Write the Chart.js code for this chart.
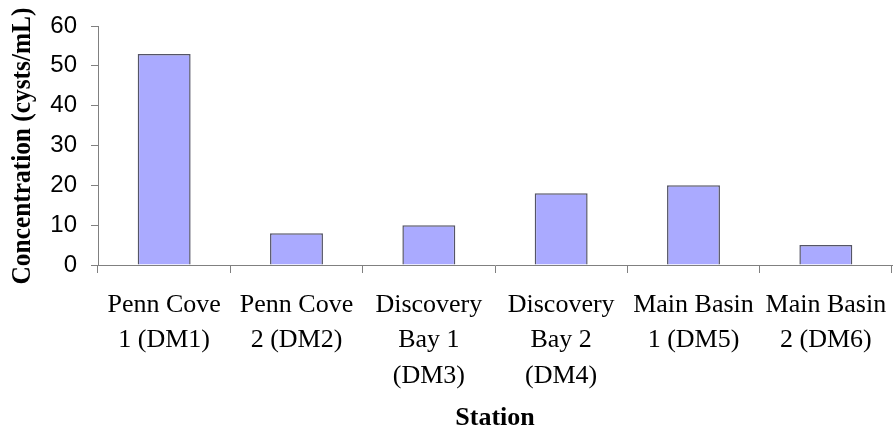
<!DOCTYPE html>
<html>
<head>
<meta charset="utf-8">
<script src="https://cdn.jsdelivr.net/npm/chart.js@4"></script>
<style>
html, body { margin: 0; padding: 0; background: #fff; }
#wrap { width: 893px; height: 437px; }
</style>
</head>
<body>
<div id="wrap"><canvas id="grafico"></canvas></div>
<script>
var estaciones = [
    ['Penn Cove', '1 (DM1)'],
    ['Penn Cove', '2 (DM2)'],
    ['Discovery', 'Bay 1', '(DM3)'],
    ['Discovery', 'Bay 2', '(DM4)'],
    ['Main Basin', '1 (DM5)'],
    ['Main Basin', '2 (DM6)']
];
var concentracion = [53, 8, 10, 18, 20, 5];
var ejeY = { min: 0, max: 60, paso: 10 };
var tituloY = 'Concentration (cysts/mL)';
var tituloX = 'Station';

// the y title is longer than the plot height, so draw it by hand
var tituloVertical = {
    id: 'tituloVertical',
    afterDraw: function(chart) {
        var c = chart.ctx;
        c.save();
        c.translate(23, 146);
        c.rotate(-Math.PI / 2);
        c.fillStyle = '#000';
        c.font = 'bold 27px "Liberation Serif"';
        c.textAlign = 'center';
        c.textBaseline = 'middle';
        c.fillText(tituloY, 0, 0, 277);
        c.restore();
    }
};

var ctx = document.getElementById('grafico').getContext('2d');
var grafico = new Chart(ctx, {
type: 'bar',
data: {
    labels: estaciones,
    datasets: [{
        label: 'Concentration',
        data: concentracion,
        backgroundColor: '#aaaaff',
        borderColor: '#555566',
        borderWidth: 1.5,
        barPercentage: 0.4,
        categoryPercentage: 1.0
    }]
},
options: {
    responsive: true,
    maintainAspectRatio: false,
    animation: false,
    layout: { padding: { top: 26, right: 1, left: 0, bottom: 0 } },
    scales: {
        y: {
            min: ejeY.min,
            max: ejeY.max,
            afterFit: function(eje) {
                eje.width = 98;
                eje.paddingTop = 0;
                eje.paddingBottom = 0;
            },
            ticks: {
                stepSize: ejeY.paso,
                color: '#000',
                font: { family: 'Liberation Sans', size: 24 },
                padding: 14
            },
            grid: { drawOnChartArea: false, tickLength: 7, color: '#808080' },
            border: { color: '#808080', width: 1 }
        },
        x: {
            afterFit: function(eje) {
                eje.height = 172;
                eje.paddingLeft = 0;
                eje.paddingRight = 0;
            },
            ticks: {
                color: '#000',
                font: { family: 'Liberation Serif', size: 26, lineHeight: 1.35 },
                maxRotation: 0,
                autoSkip: false,
                padding: 15
            },
            grid: { drawOnChartArea: false, tickLength: 8, color: '#808080', offset: true },
            border: { color: '#808080', width: 1 },
            title: {
                display: true,
                text: tituloX,
                color: '#000',
                font: { family: 'Liberation Serif', size: 26, weight: 'bold' },
                padding: { top: 3, bottom: 3 }
            }
        }
    },
    plugins: {
        legend: { display: false },
        tooltip: { enabled: false }
    }
},
plugins: [tituloVertical]
});
</script>
</body>
</html>
